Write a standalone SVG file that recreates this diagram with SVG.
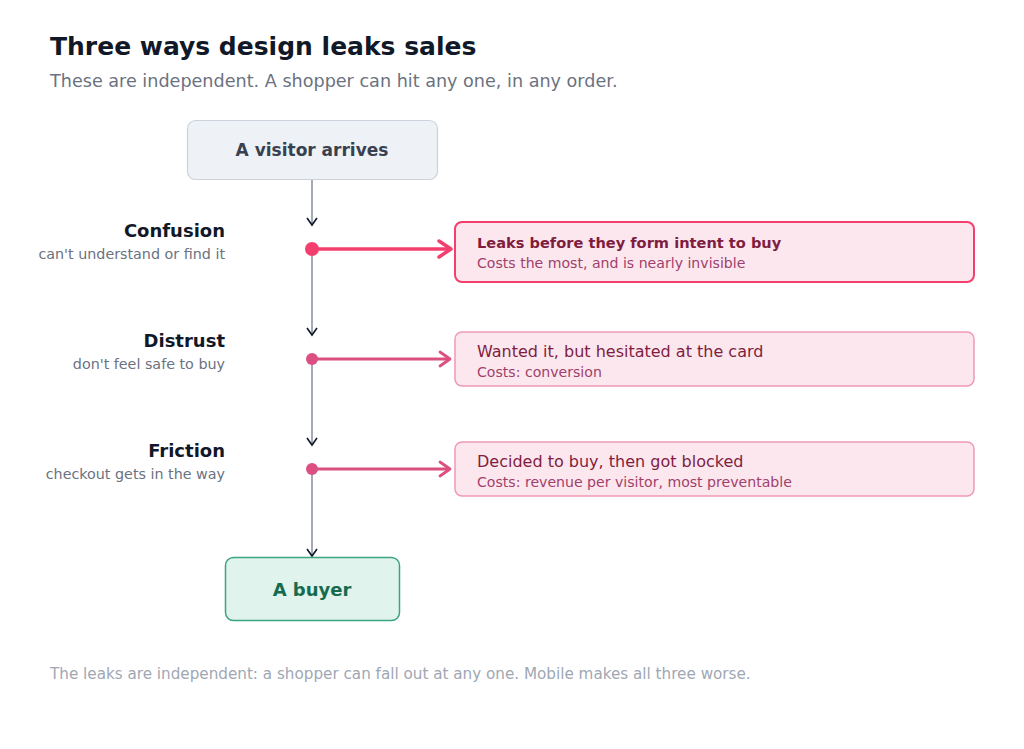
<svg xmlns="http://www.w3.org/2000/svg" width="1024" height="749" viewBox="0 0 1024 749">
<defs>
<style>
.h{font-family:"DejaVu Sans","Liberation Sans",sans-serif;font-weight:bold}
.b{font-family:"DejaVu Sans","Liberation Sans",sans-serif}
.lab{font-size:18px;fill:#111827;text-anchor:end}
.sub{font-size:14.3px;fill:#6b7280;text-anchor:end}
.spine{stroke:#a3a9b6;stroke-width:2;fill:none}
.box{fill:#fce7ef;stroke:#f09bb5;stroke-width:1.5}
.t1{font-size:16px;fill:#7f1d3f}
.t2{font-size:14.1px;fill:#a0406a}
</style>
<marker id="ah" viewBox="0 0 12 12" refX="10" refY="6" markerWidth="12" markerHeight="12" markerUnits="userSpaceOnUse" orient="auto">
<path d="M3,1 L10,6 L3,11" fill="none" stroke="#111827" stroke-width="1.6"/>
</marker>
<marker id="ahr" viewBox="0 0 20 20" refX="18" refY="10" markerWidth="20" markerHeight="20" markerUnits="userSpaceOnUse" orient="auto">
<path d="M6,2 L18,10 L6,18" fill="none" stroke="#f43f6e" stroke-width="3.5" stroke-linecap="round" stroke-linejoin="round"/>
</marker>
<marker id="ahp" viewBox="0 0 20 20" refX="18" refY="10" markerWidth="20" markerHeight="20" markerUnits="userSpaceOnUse" orient="auto">
<path d="M8,3 L18,10 L8,17" fill="none" stroke="#db5080" stroke-width="2.8" stroke-linecap="round" stroke-linejoin="round"/>
</marker>
</defs>
<rect width="1024" height="749" fill="#ffffff"/>
<text x="50" y="55" class="h" font-size="25" fill="#111827">Three ways design leaks sales</text>
<text x="50" y="87" class="b" font-size="17.6" fill="#6b7280">These are independent. A shopper can hit any one, in any order.</text>

<g id="connectors">
<line class="spine" x1="312" y1="180" x2="312" y2="225" marker-end="url(#ah)"/>
<line class="spine" x1="312" y1="249" x2="312" y2="335" marker-end="url(#ah)"/>
<line class="spine" x1="312" y1="359" x2="312" y2="445" marker-end="url(#ah)"/>
<line class="spine" x1="312" y1="469" x2="312" y2="556" marker-end="url(#ah)"/>
<line x1="312" y1="249" x2="451" y2="249" stroke="#f43f6e" stroke-width="3.5" marker-end="url(#ahr)"/>
<line x1="312" y1="359" x2="450" y2="359" stroke="#db5080" stroke-width="2.8" marker-end="url(#ahp)"/>
<line x1="312" y1="469" x2="450" y2="469" stroke="#db5080" stroke-width="2.8" marker-end="url(#ahp)"/>
<circle cx="312" cy="249" r="7" fill="#f43f6e"/>
<circle cx="312" cy="359" r="6" fill="#db5080"/>
<circle cx="312" cy="469" r="6" fill="#db5080"/>
</g>

<g id="visitor">
<rect x="187.5" y="120.5" width="250" height="59" rx="8" fill="#eef1f5" stroke="#cbd2db" stroke-width="1.2"/>
<text x="312" y="156" class="h" font-size="17" fill="#374151" text-anchor="middle">A visitor arrives</text>
</g>

<g id="confusion">
<text x="225" y="237" class="h lab">Confusion</text>
<text x="225" y="259" class="b sub">can't understand or find it</text>
</g>
<g id="distrust">
<text x="225" y="347" class="h lab">Distrust</text>
<text x="225" y="369" class="b sub">don't feel safe to buy</text>
</g>
<g id="friction">
<text x="225" y="457" class="h lab">Friction</text>
<text x="225" y="479" class="b sub">checkout gets in the way</text>
</g>

<g id="leak1">
<rect x="455" y="222" width="519" height="60" rx="7" fill="#fce7ef" stroke="#f43f6e" stroke-width="2"/>
<text x="477" y="248" class="h" font-size="14.6" fill="#7f1d3f">Leaks before they form intent to buy</text>
<text x="477" y="268" class="b t2">Costs the most, and is nearly invisible</text>
</g>
<g id="leak2">
<rect x="455" y="332" width="519" height="54" rx="7" class="box"/>
<text x="477" y="357" class="b t1">Wanted it, but hesitated at the card</text>
<text x="477" y="377" class="b t2">Costs: conversion</text>
</g>
<g id="leak3">
<rect x="455" y="442" width="519" height="54" rx="7" class="box"/>
<text x="477" y="467" class="b t1">Decided to buy, then got blocked</text>
<text x="477" y="487" class="b t2">Costs: revenue per visitor, most preventable</text>
</g>

<g id="buyer">
<rect x="225.5" y="557.5" width="174" height="63" rx="8" fill="#e0f3ec" stroke="#3aa57e" stroke-width="1.5"/>
<text x="312" y="596" class="h" font-size="18" fill="#166b4e" text-anchor="middle">A buyer</text>
</g>

<text x="50" y="679" class="b" font-size="15.2" fill="#a0a7b3">The leaks are independent: a shopper can fall out at any one. Mobile makes all three worse.</text>
</svg>
